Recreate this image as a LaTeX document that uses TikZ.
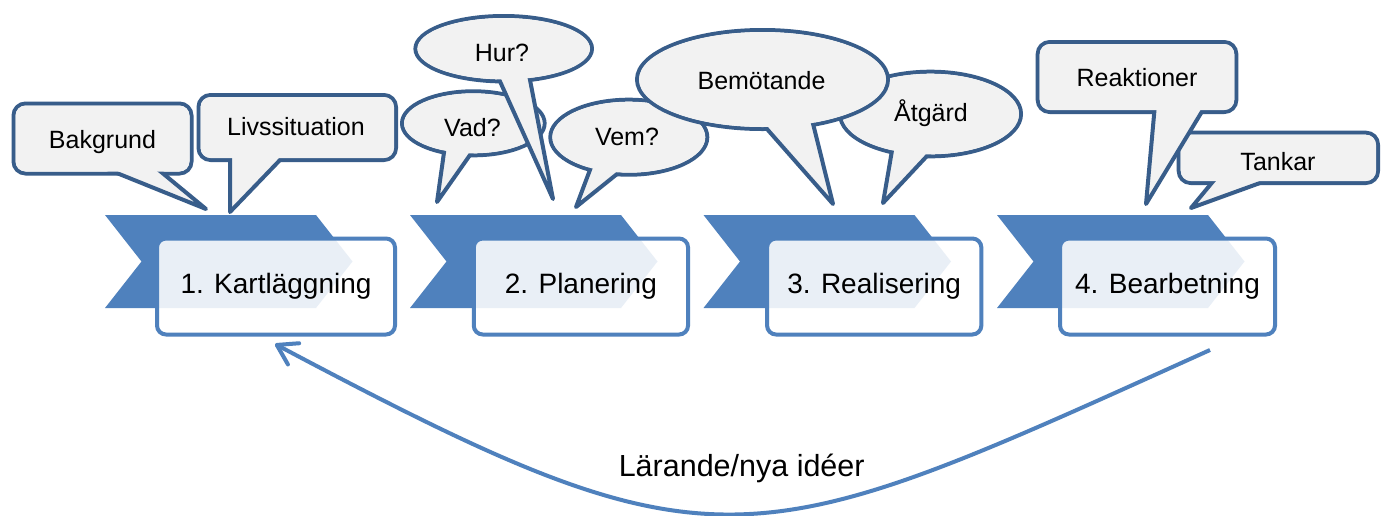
\documentclass[tikz,border=0pt]{standalone}
\usepackage{fontspec}
\setmainfont{Liberation Sans}
\usetikzlibrary{calc,arrows.meta}
\definecolor{chev}{HTML}{4F81BD}
\definecolor{bline}{HTML}{385D8A}
\definecolor{bfill}{HTML}{F2F2F2}
\tikzset{
  chevshape/.style={fill=chev, draw=none},
  stagebox/.style={draw=chev, line width=4pt, fill=white, fill opacity=0.88, text opacity=1,
    rounded corners=9pt, inner sep=0pt, minimum height=96pt, font=\fontsize{28}{32}\selectfont},
  bubbleline/.style={draw=bline, line width=4pt, fill=bfill, line join=round},
  bubbletext/.style={font=\fontsize{25}{29}\selectfont, anchor=base, inner sep=0pt},
  looptext/.style={font=\fontsize{30.5}{34}\selectfont, anchor=base, inner sep=0pt},
  looparrow/.style={draw=chev, line width=4pt, -{Straight Barb[length=19pt,width=24pt,round]}},
}
\newcommand\chevronshape[1]{%
  \fill[chevshape] (#1,215) -- ++(211,0) -- ++(36.5,46.5) -- ++(-36.5,46.5) -- ++(-211,0) -- ++(36.5,-46.5) -- cycle;}
% l t r b  B1x B2x  Tx Ty
\newcommand\rectbubble[8]{%
  \draw[bubbleline, rounded corners=12pt] (#1,#2) rectangle (#3,#4);
  \draw[bubbleline] (#7,#8) -- ($(#5,#4)!-12pt!(#7,#8)$) -- ($(#6,#4)!-12pt!(#7,#8)$) -- cycle;
  \fill[bfill, rounded corners=10pt] (#1+2,#2+2) rectangle (#3-2,#4-2);}
% cx cy rx ry B1 B2 T
\newcommand\ellbubble[7]{%
  \pgfmathsetmacro\ebirx{#3-2}\pgfmathsetmacro\ebiry{#4-2}%
  \draw[bubbleline] (#1,#2) ellipse[x radius=#3pt, y radius=#4pt];
  \draw[bubbleline] (#7) -- ($(#5)!-12pt!(#7)$) -- ($(#6)!-12pt!(#7)$) -- cycle;
  \fill[bfill] (#1,#2) ellipse[x radius=\ebirx pt, y radius=\ebiry pt];}
\begin{document}
\begin{tikzpicture}[x=1pt,y=-1pt]
\useasboundingbox (0,0) rectangle (1386,515);
\fill[white] (0,0) rectangle (1386,515);
% chevrons
\chevronshape{105}
\chevronshape{410}
\chevronshape{703.5}
\chevronshape{997}
% stage boxes
\node[stagebox, minimum width=238pt] (s1) at (276,286.5) {1. Kartläggning};
\node[stagebox, minimum width=214.3pt] (s2) at (580.9,286.5) {2. Planering};
\node[stagebox, minimum width=214.3pt] (s3) at (874.2,286.5) {3. Realisering};
\node[stagebox, minimum width=215pt] (s4) at (1167.5,286.5) {4. Bearbetning};
% loop arrow
\coordinate (loopstart) at (1210,350);
\coordinate (loopend) at (275,344);
\draw[looparrow] (loopstart) .. controls (745,560) and (720,580) .. (loopend);
\node[looptext] (loop) at (741.7,476) {Lärande/nya idéer};
% bubbles
\rectbubble{13.5}{103.5}{191.5}{173.5}{118}{163}{206}{209}
\node[bubbletext] (bakgrund) at (102.5,148.3) {Bakgrund};
\rectbubble{198.5}{95}{396}{160}{230}{280}{230}{212}
\node[bubbletext] (livs) at (296,135) {Livssituation};
\ellbubble{473.3}{123.3}{71.3}{32}{444,152.5}{470,155}{437,202}
\node[bubbletext] (vad) at (472.5,136.7) {Vad?};
\ellbubble{503.7}{48.7}{88.3}{32.7}{500,81.4}{530,79.9}{553,199}
\node[bubbletext] (hur) at (502,61.7) {Hur?};
\ellbubble{628.8}{137.2}{78.5}{37.5}{590,169.8}{616.7,174.3}{576,207}
\node[bubbletext] (vem) at (627,145) {Vem?};
\ellbubble{930.5}{114}{90.5}{42.3}{891.7,152.2}{926.7,156.3}{883,203}
\node[bubbletext] (atgard) at (931,121.7) {Åtgärd};
\ellbubble{762.5}{79.5}{125.5}{49.5}{767,129}{813.3,124.8}{833,204}
\node[bubbletext] (bemot) at (761.5,89) {Bemötande};
\rectbubble{1178.7}{132.7}{1378}{183}{1211.7}{1260}{1191}{208}
\node[bubbletext] (tankar) at (1278,170.7) {Tankar};
\rectbubble{1037.7}{42}{1236.3}{112}{1154.3}{1201.7}{1146}{204}
\node[bubbletext] (reakt) at (1137,86.7) {Reaktioner};
\end{tikzpicture}
\end{document}
